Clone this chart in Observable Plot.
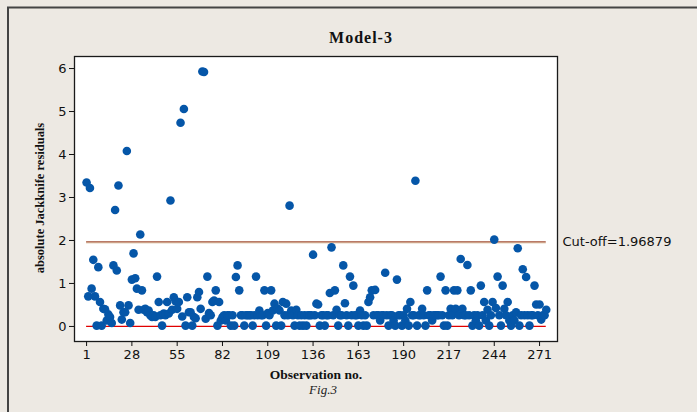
<!DOCTYPE html>
<html>
<head>
<meta charset="utf-8">
<script src="https://cdn.jsdelivr.net/npm/d3@7"></script>
<script src="https://cdn.jsdelivr.net/npm/@observablehq/plot@0.6"></script>
<style>
  html, body { margin: 0; padding: 0; background: #ede9e3; }
  #chart { width: 697px; height: 412px; position: relative; }
</style>
</head>
<body>
<div id="chart"></div>
<script>
const residuals = [
  3.35, 0.70, 3.22, 0.88, 1.55, 0.70, 0.02, 1.38, 0.57, 0.02,
  0.41, 0.40, 0.14, 0.28, 0.22, 0.08, 1.42, 2.71, 1.30, 3.28,
  0.49, 0.16, 0.33, 0.33, 4.08, 0.49, 0.08, 1.09, 1.70, 1.12,
  0.88, 0.39, 2.14, 0.84, 0.39, 0.41, 0.33, 0.37, 0.26, 0.22,
  0.26, 0.22, 1.16, 0.57, 0.26, 0.02, 0.30, 0.26, 0.57, 0.30,
  2.93, 0.39, 0.68, 0.59, 0.41, 0.57, 4.74, 0.23, 5.06, 0.02,
  0.68, 0.33, 0.33, 0.02, 0.22, 0.19, 0.68, 0.80, 0.41, 5.93,
  5.92, 0.18, 1.16, 0.31, 0.26, 0.57, 0.60, 0.84, 0.02, 0.57,
  0.14, 0.22, 0.26, 0.14, 0.26, 0.26, 0.02, 0.26, 0.02, 1.15,
  1.42, 0.84, 0.26, 0.26, 0.02, 0.26, 0.26, 0.26, 0.26, 0.02,
  0.26, 1.16, 0.26, 0.37, 0.26, 0.26, 0.84, 0.02, 0.31, 0.26,
  0.84, 0.37, 0.53, 0.02, 0.41, 0.37, 0.02, 0.57, 0.26, 0.53,
  0.26, 2.81, 0.37, 0.26, 0.02, 0.39, 0.26, 0.02, 0.26, 0.02,
  0.26, 0.02, 0.26, 0.26, 0.26, 1.67, 0.26, 0.53, 0.51, 0.02,
  0.26, 0.26, 0.02, 0.26, 0.26, 0.78, 1.84, 0.26, 0.84, 0.39,
  0.02, 0.26, 0.26, 1.42, 0.54, 0.26, 0.02, 1.16, 0.26, 0.95,
  0.26, 0.26, 0.02, 0.37, 0.26, 0.02, 0.26, 0.02, 0.57, 0.68,
  0.84, 0.26, 0.85, 0.26, 0.26, 0.14, 0.26, 0.26, 1.25, 0.26,
  0.02, 0.26, 0.26, 0.14, 0.02, 1.09, 0.26, 0.26, 0.02, 0.26,
  0.14, 0.41, 0.02, 0.57, 0.26, 0.26, 3.39, 0.02, 0.26, 0.26,
  0.41, 0.26, 0.02, 0.84, 0.26, 0.26, 0.14, 0.26, 0.26, 0.26,
  0.26, 1.16, 0.26, 0.02, 0.84, 0.02, 0.26, 0.41, 0.26, 0.84,
  0.41, 0.84, 0.26, 1.57, 0.41, 0.26, 0.26, 1.43, 0.26, 0.84,
  0.02, 0.26, 0.14, 0.26, 0.02, 0.95, 0.26, 0.57, 0.14, 0.39,
  0.02, 0.26, 0.57, 2.02, 0.43, 1.16, 0.26, 0.02, 0.95, 0.41,
  0.26, 0.57, 0.14, 0.02, 0.26, 0.14, 0.33, 1.82, 0.02, 0.26,
  1.33, 0.26, 1.15, 0.26, 0.02, 0.26, 0.26, 0.95, 0.51, 0.26,
  0.51, 0.16, 0.26, 0.26, 0.39
];
const observations = residuals.map((_, i) => i + 1);
const xTicks = [1, 28, 55, 82, 109, 136, 163, 190, 217, 244, 271];
const yTicks = [0, 1, 2, 3, 4, 5, 6];
const cutoff = 1.96879;
const titleText = "Model-3";
const xLabel = "Observation no.";
const yLabel = "absolute Jackknife residuals";
const cutoffLabel = "Cut-off=1.96879";
const figLabel = "Fig.3";

const data = observations.map((o, i) => ({obs: o, r: residuals[i]}));
const first = observations[0], last = observations[observations.length - 1];

const W = 697, H = 412;
const plot = Plot.plot({
  width: W,
  height: H,
  marginLeft: 74,
  marginRight: 140,
  marginTop: 56,
  marginBottom: 71,
  style: {background: "transparent", fontFamily: "DejaVu Sans", fontSize: "13px", color: "#111", overflow: "visible"},
  x: {domain: [-6.2, 281.7], label: null},
  y: {domain: [-0.35, 6.28], label: null},
  marks: [
    Plot.frame({fill: "white", stroke: "none"}),
    Plot.ruleY([0], {x1: first, x2: last, stroke: "#e00000", strokeWidth: 1.2}),
    Plot.ruleY([cutoff], {x1: first, x2: last, stroke: "#d8b896", strokeWidth: 1, dy: 1}),
    Plot.ruleY([cutoff], {x1: first, x2: last, stroke: "#9a3e22", strokeWidth: 1}),
    Plot.dot(data, {x: "obs", y: "r", r: 4.3, fill: "#0556a8", stroke: "none"}),
    Plot.frame({stroke: "#1a1a1a", strokeWidth: 1.3}),
    Plot.axisX({ticks: xTicks, tickSize: 5, tickPadding: 3, label: null, fontSize: 13, tickFormat: d => String(d)}),
    Plot.axisY({ticks: yTicks, tickSize: 5, tickPadding: 3, label: null, fontSize: 13, tickFormat: d => String(d)}),
    Plot.text([cutoffLabel], {frameAnchor: "right", y: [cutoff], dx: 5, textAnchor: "start", fontSize: 13, fill: "#111", fontFamily: "DejaVu Sans"})
  ]
});
document.getElementById("chart").appendChild(plot);

// outer figure border and text annotations
const svg = d3.select(plot);
svg.insert("path", ":first-child")
  .attr("d", `M8,${H} V7.5 H${W}`)
  .attr("fill", "none").attr("stroke", "#444").attr("stroke-width", 2);
svg.append("text").text(titleText)
  .attr("x", 361).attr("y", 43).attr("text-anchor", "middle")
  .attr("font-family", "Liberation Serif").attr("font-weight", "bold")
  .attr("font-size", 16).attr("letter-spacing", 1).attr("fill", "#111");
svg.append("text").text(yLabel)
  .attr("transform", "translate(44,198) rotate(-90)").attr("text-anchor", "middle")
  .attr("font-family", "Liberation Serif").attr("font-weight", "bold")
  .attr("font-size", 12.5).attr("fill", "#111");
svg.append("text").text(xLabel)
  .attr("x", 316).attr("y", 379).attr("text-anchor", "middle")
  .attr("font-family", "Liberation Serif").attr("font-weight", "bold")
  .attr("font-size", 13.5).attr("fill", "#111");
svg.append("text").text(figLabel)
  .attr("x", 323).attr("y", 394).attr("text-anchor", "middle")
  .attr("font-family", "Liberation Serif").attr("font-style", "italic")
  .attr("font-size", 13).attr("fill", "#222");
</script>
</body>
</html>
